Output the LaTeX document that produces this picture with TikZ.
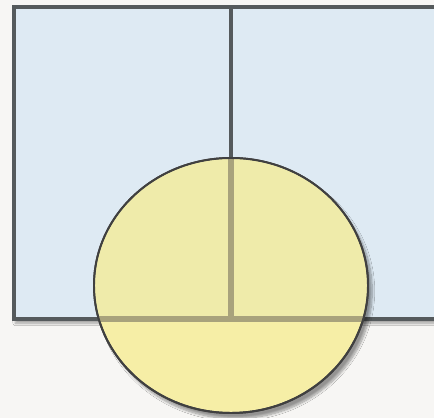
\documentclass[tikz,border=0pt]{standalone}
\usepackage{tikz}
\usetikzlibrary{shadows.blur}
\definecolor{PageBG}{HTML}{F7F6F4}
\definecolor{PaneBlue}{HTML}{DEEAF3}
\definecolor{LensYel}{HTML}{F6EEA6}
\definecolor{LensOverPane}{HTML}{EFEBAA}
\definecolor{EdgeGray}{HTML}{555A5C}
\definecolor{SeenLine}{HTML}{A8A27C}

\begin{document}
\begin{tikzpicture}[x=0.025cm, y=-0.025cm,
  pane/.style={draw=EdgeGray, line width=2.6pt, fill=PaneBlue,
               blur shadow={shadow xshift=1pt, shadow yshift=-3pt,
                            shadow blur steps=8, shadow opacity=35}},
  lens/.style={draw=black!75, line width=1.4pt, fill=LensYel,
               blur shadow={shadow xshift=3pt, shadow yshift=-4pt,
                            shadow blur steps=10, shadow opacity=40}},
  divider/.style={EdgeGray, line width=2.6pt}]
  % page
  \fill[PageBG] (0,0) rectangle (434,418);
  \useasboundingbox (0,0) rectangle (434,418);
  % window with divider
  \draw[pane] (14,7) rectangle (450,319);
  \coordinate (top) at (231,7);
  \coordinate (bot) at (231,319);
  \coordinate (lft) at (14,319);
  \coordinate (rgt) at (450,319);
  \draw[divider] (top) -- (bot);
  % magnifier
  \draw[lens] (231,285.5) ellipse [x radius=137, y radius=127.5];
  \begin{scope}
    \clip (231,285.5) ellipse [x radius=136, y radius=126.5];
    \fill[LensOverPane] (14,7) rectangle (450,319);
    \draw[divider, SeenLine, line width=3.8pt] (top) -- (bot) (lft) -- (rgt);
  \end{scope}
  \draw[draw=black!75, line width=1.4pt] (231,285.5) ellipse [x radius=137, y radius=127.5];
\end{tikzpicture}
\end{document}
